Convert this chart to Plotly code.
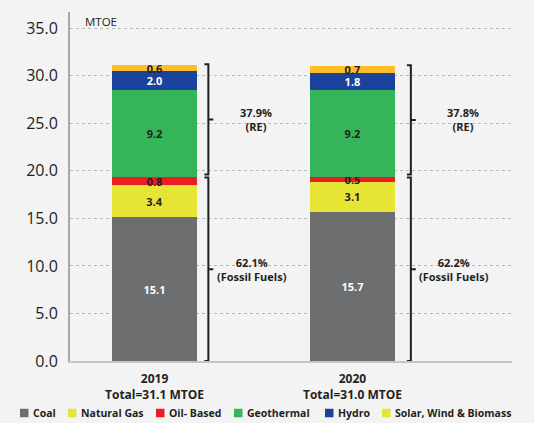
import plotly.graph_objects as go

# ---- data -------------------------------------------------------------
years = ["2019", "2020"]
totals = ["31.1", "31.0"]
coal = [15.1, 15.7]
natural_gas = [3.4, 3.1]
oil_based = [0.8, 0.5]
geothermal = [9.2, 9.2]
hydro = [2.0, 1.8]
solar_wind_biomass = [0.6, 0.7]
re_share = ["37.9%", "37.8%"]
fossil_share = ["62.1%", "62.2%"]
yticks = [0, 5, 10, 15, 20, 25, 30, 35]

series = [
    ("Coal", coal, "#6d6e70", "white"),
    ("Natural Gas", natural_gas, "#e6e535", "#231f20"),
    ("Oil- Based", oil_based, "#ed1c24", "#231f20"),
    ("Geothermal", geothermal, "#36b45a", "#231f20"),
    ("Hydro", hydro, "#1a449b", "white"),
    ("Solar, Wind & Biomass", solar_wind_biomass, "#fdbe2a", "#231f20"),
]
legend_colors = ["#6d6e70", "#e6e535", "#ed1c24", "#36b45a", "#1a449b", "#e6e535"]

# ---- style ------------------------------------------------------------
FONT = "Open Sans"
INK = "#231f20"
BG = "#f3f3f3"
W, H = 534, 423
ML, MR, MT, MB = 70, 22, 12, 62
x_pos = [0, 1]
bar_width = 0.43
bracket_dx = [0.272, 0.295]     # bracket offset from bar centre
label_dx = [0.515, 0.56]        # RE label offset
fossil_label_dx = [0.49, 0.515]

fig = go.Figure()
for name, vals, color, tcolor in series:
    fig.add_trace(go.Bar(
        x=x_pos, y=vals, name=name, width=bar_width,
        marker=dict(color=color, line=dict(width=0)),
        texttemplate="<b>%{y:.1f}</b>", textposition="inside",
        insidetextanchor="middle", textangle=0,
        textfont=dict(family=FONT, size=11, color=tcolor),
        showlegend=False, hoverinfo="skip",
    ))

shapes = []
annotations = []
hook = 0.02
tick = 0.025
for i, x0 in enumerate(x_pos):
    fossil_top = coal[i] + natural_gas[i] + oil_based[i]
    total = fossil_top + geothermal[i] + hydro[i] + solar_wind_biomass[i]
    bx = x0 + bracket_dx[i]
    # renewable bracket
    r0, r1 = fossil_top + 0.3, total + 0.1
    rm = (r0 + r1) / 2
    shapes.append(dict(
        type="path", xref="x", yref="y",
        path=f"M {bx-hook},{r1} L {bx},{r1} L {bx},{r0} L {bx-hook},{r0} "
             f"M {bx},{rm} L {bx+tick},{rm}",
        line=dict(color=INK, width=2)))
    # fossil bracket
    f0, f1 = 0, fossil_top
    fm = (f0 + f1) / 2
    shapes.append(dict(
        type="path", xref="x", yref="y",
        path=f"M {bx-hook},{f1} L {bx},{f1} L {bx},{f0} L {bx-hook},{f0} "
             f"M {bx},{fm} L {bx+tick},{fm}",
        line=dict(color=INK, width=2)))
    annotations.append(dict(
        x=x0 + label_dx[i], y=rm, xref="x", yref="y", showarrow=False,
        text=f"<b>{re_share[i]}</b><br><b>(RE)</b>",
        font=dict(family=FONT, size=11, color=INK), align="center"))
    annotations.append(dict(
        x=x0 + fossil_label_dx[i], y=fm, xref="x", yref="y", showarrow=False,
        text=f"<b>{fossil_share[i]}</b><br><b>(Fossil Fuels)</b>",
        font=dict(family=FONT, size=11, color=INK), align="center"))

# unit label
annotations.append(dict(
    x=(83 - ML) / (W - ML - MR), y=35.75, xref="paper", yref="y",
    xanchor="left", yanchor="middle", showarrow=False, text="MTOE",
    font=dict(family=FONT, size=11.5, color=INK)))

# legend row drawn beneath the chart
pw, ph = W - ML - MR, H - MT - MB


def px_x(px):
    return (px - ML) / pw


def px_y(py):
    return (H - MB - py) / ph


legend_x = [20, 68, 156, 234, 325, 382]
sq = 8.5
ly = 413
for (name, _, _, _), c, lx in zip(series, legend_colors, legend_x):
    shapes.append(dict(
        type="rect", xref="paper", yref="paper",
        x0=px_x(lx), x1=px_x(lx + sq), y0=px_y(ly + sq / 2), y1=px_y(ly - sq / 2),
        fillcolor=c, line=dict(width=0)))
    annotations.append(dict(
        x=px_x(lx + sq + 2), y=px_y(ly), xref="paper", yref="paper",
        xanchor="left", yanchor="middle", showarrow=False,
        text=f"<b>{name}</b>", font=dict(family=FONT, size=10.5, color=INK)))

fig.update_layout(
    barmode="stack",
    width=W, height=H,
    margin=dict(l=ML, r=MR, t=MT, b=MB, pad=0),
    paper_bgcolor=BG, plot_bgcolor=BG,
    font=dict(family=FONT, color=INK),
    uniformtext=dict(minsize=11, mode="show"),
    shapes=shapes, annotations=annotations,
    xaxis=dict(
        range=[-0.427, 1.806], tickvals=x_pos,
        ticktext=[f"<b>{y}</b><br><b>Total={t} MTOE</b>" for y, t in zip(years, totals)],
        tickfont=dict(family=FONT, size=12, color=INK),
        showgrid=False, zeroline=False, showline=True,
        linecolor="#c4c4c4", linewidth=2, ticks="", ticklabelstandoff=6,
    ),
    yaxis=dict(
        range=[0, 36.7], tickvals=yticks,
        ticktext=[f"{v:.1f}" for v in yticks],
        tickfont=dict(family=FONT, size=16, color=INK),
        showgrid=True, gridcolor="#b8b8b8", griddash="dot", gridwidth=1,
        zeroline=False, showline=True, linecolor="#a8a8a8", linewidth=2,
        ticks="", ticklabelstandoff=7,
    ),
)

fig.write_html("out.html")
